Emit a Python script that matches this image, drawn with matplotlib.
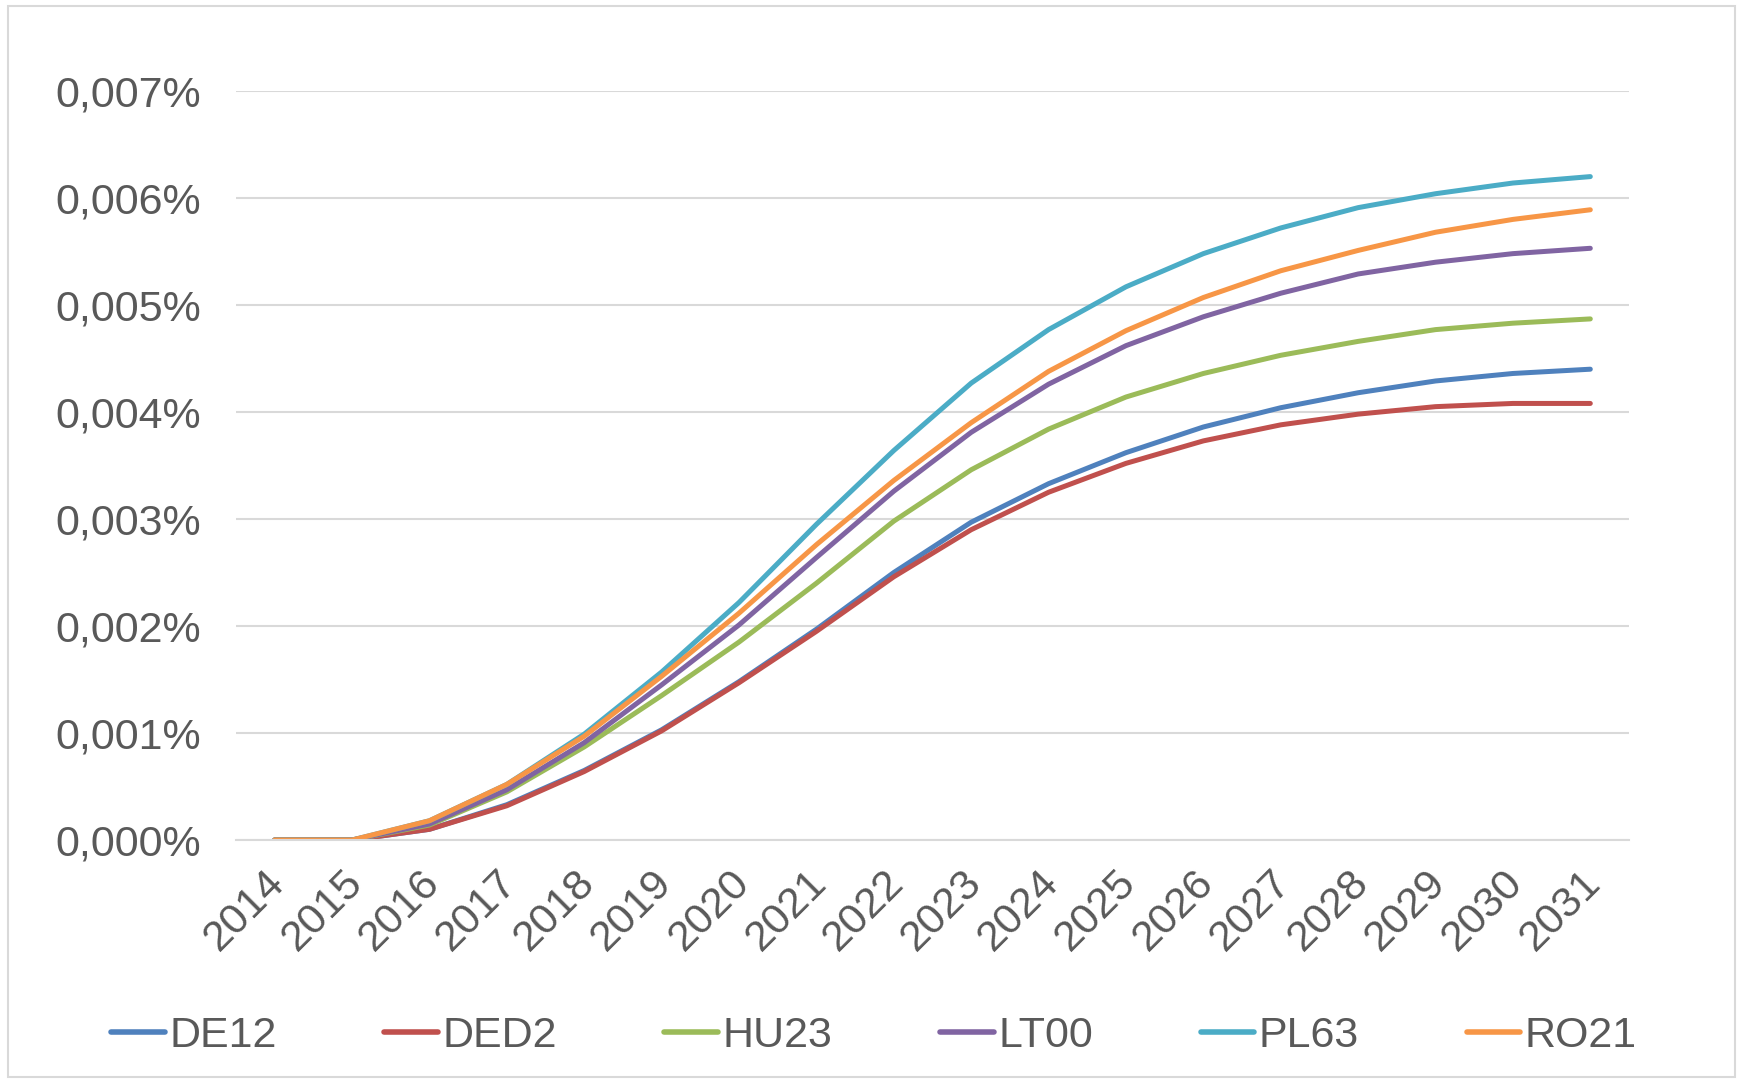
import matplotlib

matplotlib.use("Agg")
import matplotlib.pyplot as plt
import matplotlib.transforms as mtransforms
from matplotlib.patches import Rectangle
from matplotlib.ticker import FuncFormatter, MultipleLocator

years = [str(y) for y in range(2014, 2032)]

# values in percent
de12 = [0.0, 0.0, 0.00010, 0.00033, 0.00065, 0.00103, 0.00148, 0.00197, 0.00250,
        0.00297, 0.00333, 0.00362, 0.00386, 0.00404, 0.00418, 0.00429, 0.00436, 0.00440]
ded2 = [0.0, 0.0, 0.00010, 0.00032, 0.00064, 0.00102, 0.00147, 0.00195, 0.00246,
        0.00290, 0.00325, 0.00352, 0.00373, 0.00388, 0.00398, 0.00405, 0.00408, 0.00408]
hu23 = [0.0, 0.0, 0.00014, 0.00045, 0.00087, 0.00135, 0.00185, 0.00240, 0.00298,
        0.00346, 0.00384, 0.00414, 0.00436, 0.00453, 0.00466, 0.00477, 0.00483, 0.00487]
lt00 = [0.0, 0.0, 0.00015, 0.00047, 0.00091, 0.00145, 0.00201, 0.00264, 0.00326,
        0.00381, 0.00426, 0.00462, 0.00489, 0.00511, 0.00529, 0.00540, 0.00548, 0.00553]
pl63 = [0.0, 0.0, 0.00018, 0.00052, 0.00099, 0.00157, 0.00222, 0.00295, 0.00364,
        0.00427, 0.00477, 0.00517, 0.00548, 0.00572, 0.00591, 0.00604, 0.00614, 0.00620]
ro21 = [0.0, 0.0, 0.00018, 0.00052, 0.00097, 0.00153, 0.00212, 0.00276, 0.00336,
        0.00390, 0.00438, 0.00476, 0.00507, 0.00532, 0.00551, 0.00568, 0.00580, 0.00589]

series = {
    "DE12": (de12, "#4F81BD"),
    "DED2": (ded2, "#C0504D"),
    "HU23": (hu23, "#9BBB59"),
    "LT00": (lt00, "#8064A2"),
    "PL63": (pl63, "#4BACC6"),
    "RO21": (ro21, "#F79646"),
}

plt.rcParams["font.family"] = ["Liberation Sans", "DejaVu Sans"]
text_color = "#595959"

W, H = 1741, 1079
fig = plt.figure(figsize=(W / 100, H / 100), dpi=100)
fig.patches.append(Rectangle((8 / W, 0.002), 1727 / W, (1079 - 8) / H,
                             transform=fig.transFigure, fill=False,
                             edgecolor="#D9D9D9", linewidth=1.5))

ax = fig.add_axes([236 / W, 1 - 840 / H, (1629 - 236) / W, (840 - 91) / H])

x = list(range(len(years)))
for name, (vals, color) in series.items():
    ax.plot(x, vals, color=color, linewidth=3.6, label=name,
            solid_capstyle="round", solid_joinstyle="round")

ax.set_xlim(-0.5, len(years) - 0.5)
ax.set_ylim(0, 0.007)
ax.yaxis.set_major_locator(MultipleLocator(0.001))
ax.yaxis.set_major_formatter(FuncFormatter(lambda v, p: f"{v:.3f}%".replace(".", ",")))
ax.set_xticks(x)
ax.set_xticklabels(years, rotation=45, ha="right", rotation_mode="anchor")

ax.grid(axis="y", color="#D9D9D9", linewidth=1.5)
ax.set_axisbelow(True)
for s in ["top", "right", "left"]:
    ax.spines[s].set_visible(False)
ax.spines["bottom"].set_color("#D9D9D9")
ax.spines["bottom"].set_linewidth(1.5)

ax.tick_params(axis="y", length=0, pad=25, labelsize=31, labelcolor=text_color)
ax.tick_params(axis="x", length=0, pad=16, labelsize=31, labelcolor=text_color)

# nudge the rotated year labels a bit to the left (after tick_params, which resets transforms)
shift = mtransforms.ScaledTranslation(-0.1, 0, fig.dpi_scale_trans)
for lbl in ax.get_xticklabels():
    lbl.set_transform(lbl.get_transform() + shift)

leg = fig.legend(loc="center", bbox_to_anchor=(0.502, 1 - 1036 / H), ncol=6,
                 frameon=False, fontsize=31,
                 handlelength=1.25, handletextpad=0.1, columnspacing=2.5)
for t in leg.get_texts():
    t.set_color(text_color)
for h in leg.get_lines():
    h.set_linewidth(4)
    h.set_solid_capstyle("round")

fig.savefig("out.png", dpi=100)
